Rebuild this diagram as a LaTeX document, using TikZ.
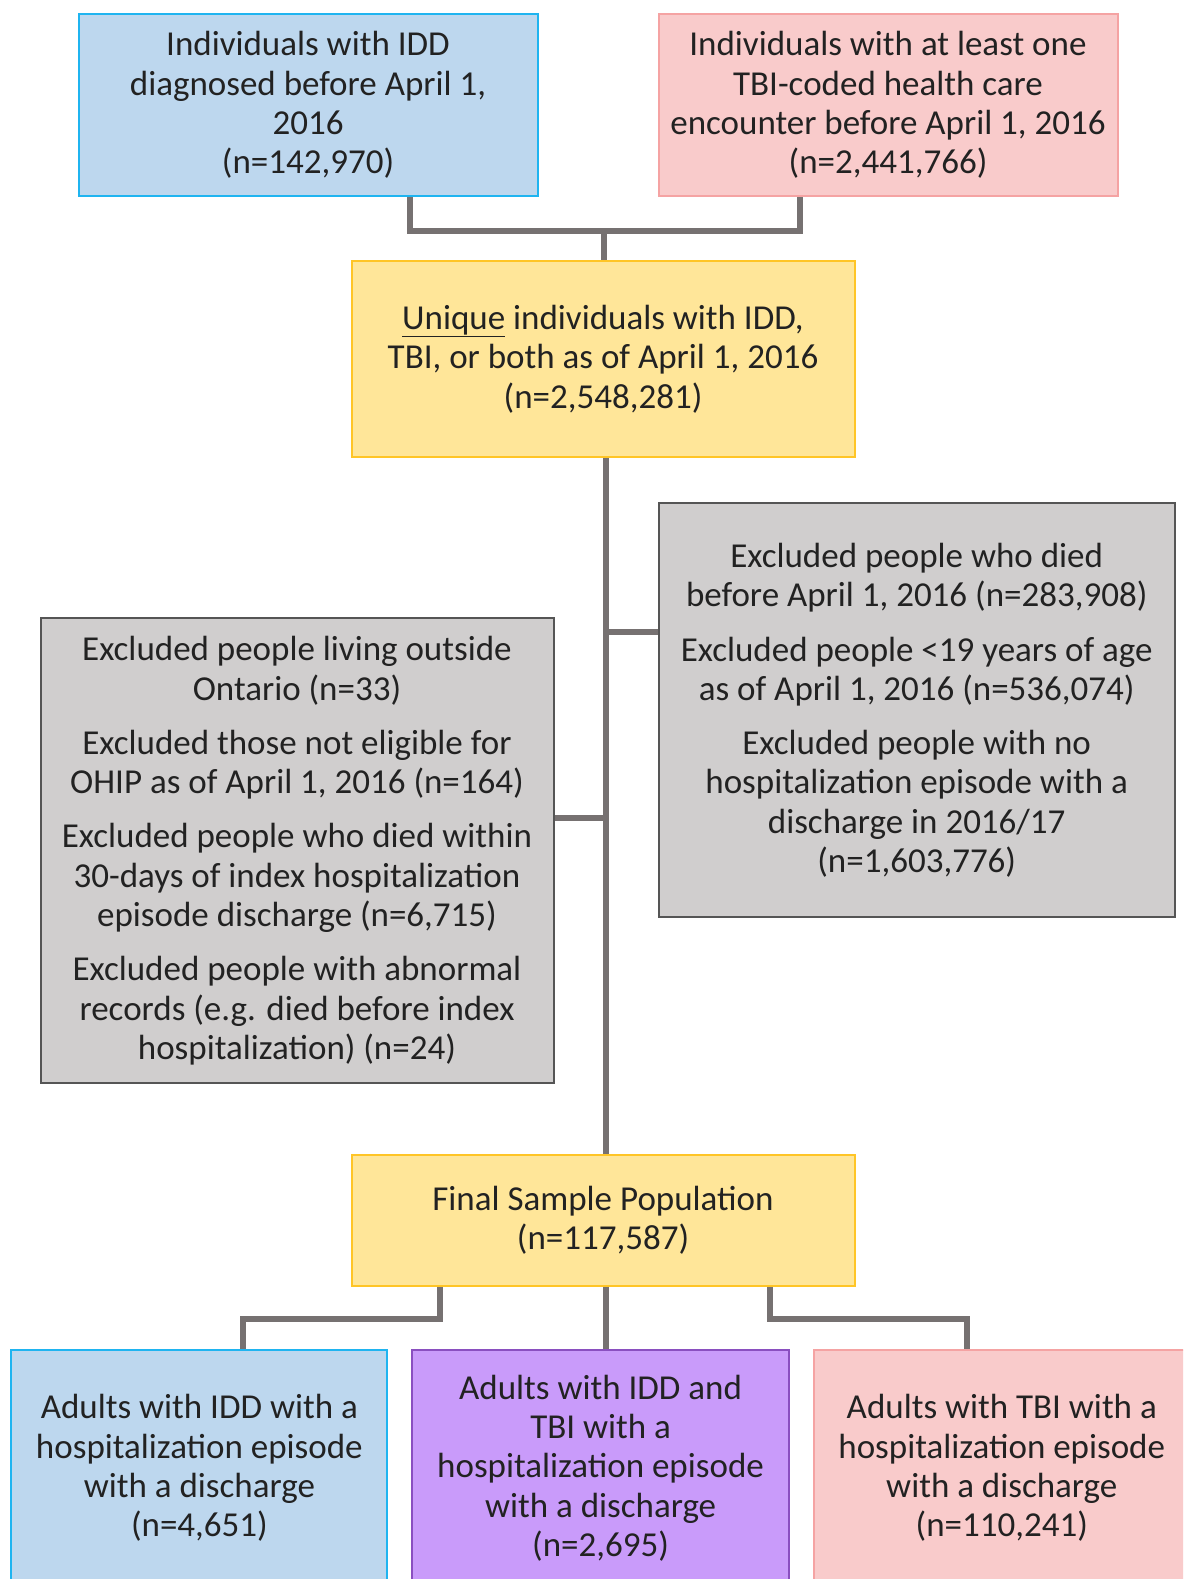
\documentclass[tikz,border=0pt]{standalone}
\usepackage{fontspec}
\setmainfont{Carlito}
\definecolor{bluefill}{HTML}{BDD7EE}
\definecolor{blueline}{HTML}{1FB4F0}
\definecolor{pinkfill}{HTML}{F9CBCB}
\definecolor{pinkline}{HTML}{F5A3A3}
\definecolor{yelfill}{HTML}{FFE699}
\definecolor{yelline}{HTML}{FFC526}
\definecolor{grayfill}{HTML}{D0CECE}
\definecolor{grayline}{HTML}{555555}
\definecolor{purfill}{HTML}{C99BFA}
\definecolor{purline}{HTML}{8A4FC0}
\definecolor{linkgray}{HTML}{767171}
\definecolor{txt}{HTML}{222222}
\tikzset{
  flowbox/.style={draw, line width=2pt, align=center, text=txt, inner sep=0pt,
    font=\fontsize{35}{39.3}\selectfont},
  bluebox/.style={flowbox, fill=bluefill, draw=blueline},
  pinkbox/.style={flowbox, fill=pinkfill, draw=pinkline},
  yelbox/.style={flowbox, fill=yelfill, draw=yelline},
  graybox/.style={flowbox, fill=grayfill, draw=grayline},
  purbox/.style={flowbox, fill=purfill, draw=purline},
  link/.style={draw=linkgray, line width=6pt}
}
\begin{document}
\begin{tikzpicture}[x=1pt,y=-1pt]
\useasboundingbox (0,0) rectangle (1183,1579);
\clip (0,0) rectangle (1183,1579);
\fill[white] (0,0) rectangle (1183,1579);

% bend points of the connectors
\coordinate (topjoin) at (604,230.6);
\coordinate (botL) at (440,1319);
\coordinate (botR) at (770.2,1319);

% boxes
\node[bluebox, minimum width=459pt, minimum height=182pt] (idd) at (308,105.2)
  {Individuals with IDD\\diagnosed before April 1,\\2016\\(n=142,970)};
\node[pinkbox, minimum width=459pt, minimum height=182pt] (tbi) at (888,105.2)
  {Individuals with at least one\\TBI-coded health care\\encounter before April 1, 2016\\(n=2,441,766)};
\node[yelbox, minimum width=503pt, minimum height=196pt] (uniq) at (603,359)
  {\underline{Unique} individuals with IDD,\\TBI, or both as of April 1, 2016\\(n=2,548,281)};
\node[graybox, minimum width=516pt, minimum height=414pt] (exR) at (916.7,710.3)
  {Excluded people who died\\before April 1, 2016 (n=283,908)\\[15pt]
   Excluded people <19 years of age\\as of April 1, 2016 (n=536,074)\\[15pt]
   Excluded people with no\\hospitalization episode with a\\discharge in 2016/17\\(n=1,603,776)};
\node[graybox, minimum width=513pt, minimum height=465pt] (exL) at (297,850.8)
  {Excluded people living outside\\Ontario (n=33)\\[15pt]
   Excluded those not eligible for\\OHIP as of April 1, 2016 (n=164)\\[15pt]
   Excluded people who died within\\30-days of index hospitalization\\episode discharge (n=6,715)\\[15pt]
   Excluded people with abnormal\\records (e.g. died before index\\hospitalization) (n=24)};
\node[yelbox, minimum width=503pt, minimum height=131pt] (final) at (603,1220.3)
  {Final Sample Population\\(n=117,587)};
\node[bluebox, minimum width=376pt, minimum height=236pt] (adIDD) at (199.4,1468)
  {Adults with IDD with a\\hospitalization episode\\with a discharge\\(n=4,651)};
\node[purbox, minimum width=377pt, minimum height=236pt] (adBoth) at (600.6,1468)
  {Adults with IDD and\\TBI with a\\hospitalization episode\\with a discharge\\(n=2,695)};
\node[pinkbox, minimum width=376pt, minimum height=236pt] (adTBI) at (1001.8,1468)
  {Adults with TBI with a\\hospitalization episode\\with a discharge\\(n=110,241)};

% connectors
\draw[link] (idd.south -| 410,0) |- (topjoin) -| (tbi.south -| 800.4,0);
\draw[link] (topjoin) -- (uniq.north -| topjoin);
\draw[link] (uniq.south -| 606,0) -- (final.north -| 606,0);
\draw[link] (606,632.3) -- (exR.west |- 0,632.3);
\draw[link] (606,817.5) -- (exL.east |- 0,817.5);
\draw[link] (final.south -| botL) -- (botL) -| (adIDD.north -| 242.6,0);
\draw[link] (final.south -| 606,0) -- (adBoth.north -| 606,0);
\draw[link] (final.south -| botR) -- (botR) -| (adTBI.north -| 966.5,0);
\end{tikzpicture}
\end{document}
